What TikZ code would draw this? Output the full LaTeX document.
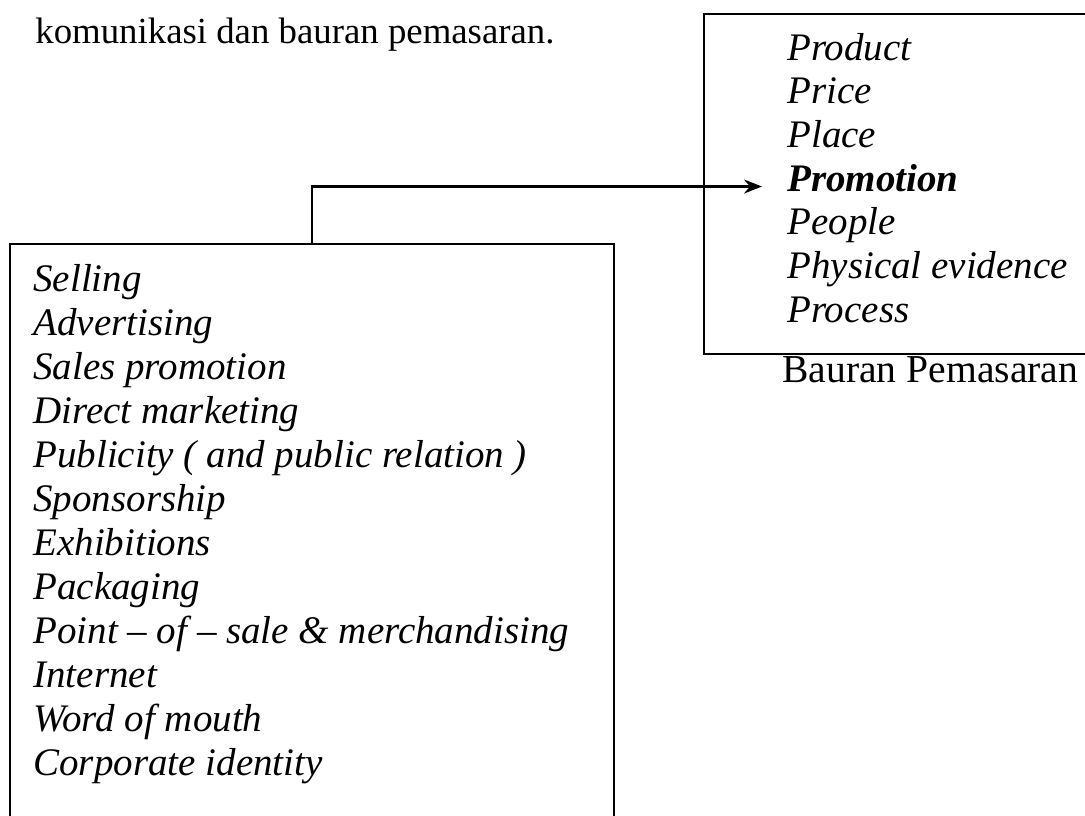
\documentclass[tikz,border=0pt]{standalone}
\usepackage{fontspec}
\setmainfont{Liberation Serif}
\usetikzlibrary{arrows.meta, positioning}

\begin{document}
\begin{tikzpicture}[x=0.5pt, y=-0.5pt,
  frame/.style={draw, line width=1.2pt, inner sep=0pt, anchor=north west},
  item/.style={font=\fontsize{19.5}{22}\selectfont\itshape, inner sep=0pt, anchor=base west},
  caption/.style={font=\fontsize{19.8}{22}\selectfont, inner sep=0pt, anchor=base west},
  link/.style={-{Stealth[length=9pt, width=7pt, inset=3pt]}, line width=1.2pt}]
  \useasboundingbox (0,0) rectangle (1085,815);
  \clip (0,0) rectangle (1085,815);

  % Text above
  \node[caption, font=\fontsize{18.4}{22}\selectfont] (intro) at (35,43) {komunikasi dan bauran pemasaran.};

  % Boxes
  \node[frame, minimum width=225pt, minimum height=170pt] (mix) at (703,13) {};
  \node[frame, minimum width=302pt, minimum height=320pt] (tools) at (9,243) {};

  % Marketing mix
  \foreach \txt [count=\i] in {Product, Price, Place, \textbf{Promotion}, People, Physical evidence, Process}
    \node[item] (m\i) at (787,{60+43.7*(\i-1)}) {\txt};
  \node[caption] (mixlabel) at (782,382) {Bauran Pemasaran};

  % Promotion tools
  \foreach \txt [count=\i] in {Selling, Advertising, Sales promotion, Direct marketing, Publicity ( and public relation ), Sponsorship, Exhibitions, Packaging, Point -- of -- sale \& merchandising, Internet, Word of mouth, Corporate identity}
    \node[item] (t\i) at (33,{291+44*(\i-1)}) {\txt};

  % Connector
  \coordinate (up) at (312,243);
  \draw[link, shorten >=12.5pt] (up) |- (m4.mid west);
\end{tikzpicture}
\end{document}
